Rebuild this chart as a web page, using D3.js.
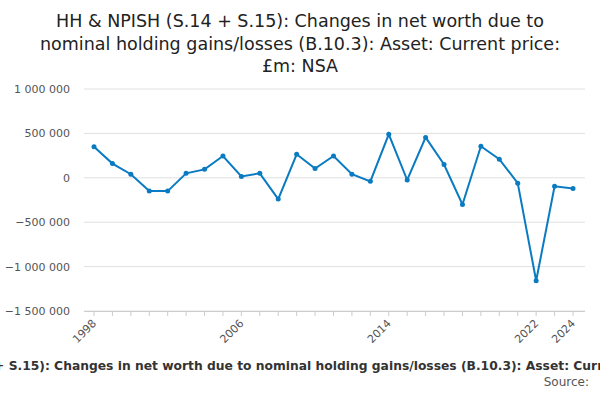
<!DOCTYPE html>
<html><head><meta charset="utf-8">
<script src="https://cdn.jsdelivr.net/npm/d3@7"></script>
<style>body{margin:0;background:#fff}svg{font-family:"DejaVu Sans",sans-serif}</style>
</head><body><svg id="c" width="600" height="400"></svg>
<script>
const years=[1998,1999,2000,2001,2002,2003,2004,2005,2006,2007,2008,2009,2010,2011,2012,2013,2014,2015,2016,2017,2018,2019,2020,2021,2022,2023,2024];
const values=[350000,160000,40000,-148000,-150000,50000,95000,245000,15000,50000,-240000,265000,105000,245000,40000,-40000,490000,-25000,455000,150000,-300000,355000,210000,-60000,-1160000,-95000,-120000];
const yTicks=[1000000,500000,0,-500000,-1000000,-1500000];
const xTicks=[1998,2006,2014,2022,2024];
const svg=d3.select("#c");
const x=d3.scaleLinear().domain([1998,2024]).range([94,573]);
const y=d3.scaleLinear().domain([-1500000,1000000]).range([311,89]);
const fmt=v=>d3.format(",")(v).replace(/,/g," ").replace("-","−");
const t=svg.append("text").attr("x",300).attr("text-anchor","middle").attr("font-size",17.5).attr("fill","#222");
["HH & NPISH (S.14 + S.15): Changes in net worth due to","nominal holding gains/losses (B.10.3): Asset: Current price:","£m: NSA"].forEach((s,i)=>t.append("tspan").attr("x",300).attr("y",27+i*22.5).text(s));
yTicks.forEach(v=>{
 svg.append("line").attr("x1",84).attr("x2",585).attr("y1",y(v)).attr("y2",y(v)).attr("stroke","#e0e0e0");
 svg.append("text").attr("x",70).attr("y",y(v)+4).attr("text-anchor","end").attr("font-size",11).attr("fill","#555").text(fmt(v));
});
svg.append("line").attr("x1",84).attr("x2",585).attr("y1",311.5).attr("y2",311.5).attr("stroke","#ccc");
years.forEach(v=>svg.append("line").attr("x1",x(v)).attr("x2",x(v)).attr("y1",311).attr("y2",316).attr("stroke","#ccc"));
xTicks.forEach(v=>svg.append("text").attr("transform",`translate(${x(v)+3},${324}) rotate(-45)`).attr("text-anchor","end").attr("font-size",11).attr("fill","#555").text(v));
svg.append("path").datum(values).attr("fill","none").attr("stroke","#0a7bc2").attr("stroke-width",2)
 .attr("d",d3.line().x((d,i)=>x(years[i])).y(d=>y(d)));
svg.selectAll("circle").data(values).join("circle").attr("cx",(d,i)=>x(years[i])).attr("cy",d=>y(d)).attr("r",2.5).attr("fill","#0a7bc2");
svg.append("text").attr("x",300).attr("y",370).attr("text-anchor","middle").attr("font-size",12.3).attr("font-weight","bold").attr("fill","#333").text("HH & NPISH (S.14 + S.15): Changes in net worth due to nominal holding gains/losses (B.10.3): Asset: Current price: £m: NSA");
svg.append("text").attr("x",589).attr("y",386).attr("text-anchor","end").attr("font-size",12).attr("fill","#555").text("Source:");
</script></body></html>
